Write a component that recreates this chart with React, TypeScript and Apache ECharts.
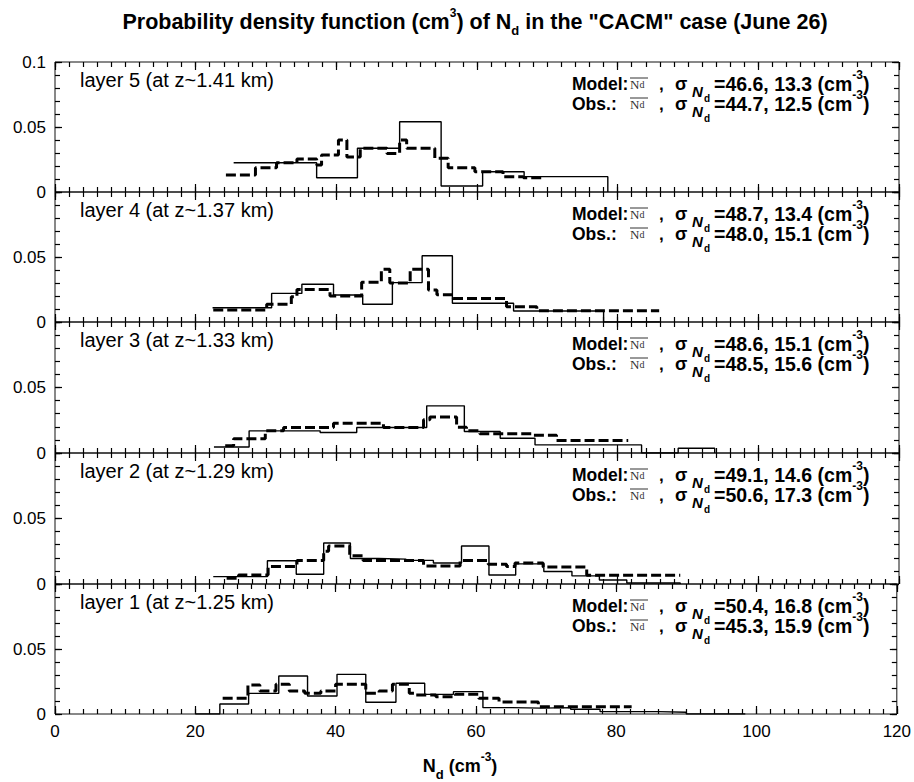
import React, { useEffect, useRef } from "react";
import * as echarts from "echarts";

// ---- axes ----
const X_MIN = 0;
const X_MAX = 120;
const X_STEP = 20;
const X_MINOR_STEP = 2;
const Y_MAX = 0.1;
const Y_STEP = 0.05;
const Y_MINOR_STEP = 0.01;

// ---- panels, listed top to bottom ----
const layerLabels = [
  "layer 5 (at z~1.41 km)",
  "layer 4 (at z~1.37 km)",
  "layer 3 (at z~1.33 km)",
  "layer 2 (at z~1.29 km)",
  "layer 1 (at z~1.25 km)",
];
const modelMean = [46.6, 48.7, 48.6, 49.1, 50.4];
const modelSigma = [13.3, 13.4, 15.1, 14.6, 16.8];
const obsMean = [44.7, 48.0, 48.5, 50.6, 45.3];
const obsSigma = [12.5, 15.1, 15.6, 17.3, 15.9];

// Histogram steps: left edge of each bin (cm^-3) with the bin's density;
// the last entry closes the final bin.
const layer5ModelNd = [25.4, 37.2, 43.0, 49.0, 54.9, 60.8, 66.7, 78.6];
const layer5ModelPdf = [0.0225, 0.011, 0.0336, 0.054, 0.0046, 0.0156, 0.0118, 0];
const layer5ObsNd = [24.3, 28.5, 31.5, 34.4, 37.2, 37.9, 40.3, 41.5, 43.4, 47.2, 49.0, 50.0, 54.0, 55.9, 59.7, 63.7, 66.6, 69.2];
const layer5ObsPdf = [0.013, 0.0187, 0.0225, 0.0254, 0.0208, 0.0285, 0.04, 0.027, 0.0336, 0.0297, 0.04, 0.0336, 0.026, 0.0187, 0.0156, 0.0118, 0.011, 0.011];

const layer4ModelNd = [22.4, 30.8, 35.1, 39.6, 43.75, 47.97, 52.2, 56.5, 65.2, 78.0, 86.0];
const layer4ModelPdf = [0.011, 0.022, 0.029, 0.0208, 0.0136, 0.0303, 0.051, 0.0144, 0.0085, 0, 0];
const layer4ObsNd = [22.5, 30.1, 33.6, 34.4, 39.1, 43.6, 46.4, 47.6, 50.5, 53.1, 54.3, 56.6, 64.2, 68.5, 85.9];
const layer4ObsPdf = [0.0092, 0.0136, 0.0195, 0.025, 0.02, 0.0305, 0.0405, 0.03, 0.0405, 0.0246, 0.021, 0.018, 0.0118, 0.0087, 0.0087];

const layer3ModelNd = [22.6, 27.6, 37.7, 42.9, 52.85, 58.2, 63.3, 68.25, 83.4, 88.6, 93.8];
const layer3ModelPdf = [0.0046, 0.0169, 0.0156, 0.0195, 0.036, 0.0164, 0.0113, 0.0062, 0, 0.0036, 0];
const layer3ObsNd = [24.2, 25.4, 29.9, 32.5, 39.6, 46.7, 52.4, 53.3, 57.1, 58.5, 60.4, 68.0, 71.3, 81.5];
const layer3ObsPdf = [0.0056, 0.0108, 0.017, 0.0195, 0.0228, 0.0195, 0.0254, 0.0274, 0.0197, 0.017, 0.0146, 0.0136, 0.0095, 0.0095];

const layer2ModelNd = [22.5, 30.2, 34.3, 38.2, 42.0, 46.0, 49.9, 53.8, 57.8, 61.7, 65.5, 69.5, 73.5, 77.4, 81.3, 88.9];
const layer2ModelPdf = [0.0056, 0.0177, 0.0074, 0.0313, 0.0195, 0.019, 0.018, 0.016, 0.029, 0.0069, 0.0154, 0.0095, 0.0062, 0.003, 0.0008, 0];
const layer2ObsNd = [24.4, 26.1, 30.3, 34.4, 38.2, 38.9, 41.9, 43.8, 52.4, 57.6, 61.6, 64.2, 65.4, 69.4, 75.6, 88.9];
const layer2ObsPdf = [0.0044, 0.0069, 0.0133, 0.018, 0.025, 0.029, 0.0215, 0.018, 0.0138, 0.018, 0.015, 0.0133, 0.016, 0.013, 0.0067, 0.0067];

const layer1ModelNd = [20.0, 23.5, 27.6, 31.9, 36.0, 40.2, 44.3, 48.6, 52.7, 56.8, 61.0, 65.2, 69.3, 73.5, 77.7, 82.0, 86.0, 90.0, 98.4];
const layer1ModelPdf = [0, 0.0077, 0.0159, 0.0292, 0.0138, 0.0305, 0.009, 0.0236, 0.0151, 0.0172, 0.0049, 0.0045, 0.0049, 0.0036, 0.0018, 0.0018, 0.0013, 0, 0];
const layer1ObsNd = [23.9, 27.5, 29.2, 31.5, 33.4, 35.6, 37.9, 40.0, 44.3, 46.2, 48.1, 50.5, 51.4, 54.3, 57.1, 60.4, 63.3, 68.9, 82.2];
const layer1ObsPdf = [0.0121, 0.0223, 0.0177, 0.0228, 0.0177, 0.0159, 0.0177, 0.0228, 0.0159, 0.0177, 0.0228, 0.0159, 0.0146, 0.0133, 0.0151, 0.0121, 0.0092, 0.0056, 0.0056];

const panels = [
  { model: [layer5ModelNd, layer5ModelPdf], obs: [layer5ObsNd, layer5ObsPdf] },
  { model: [layer4ModelNd, layer4ModelPdf], obs: [layer4ObsNd, layer4ObsPdf] },
  { model: [layer3ModelNd, layer3ModelPdf], obs: [layer3ObsNd, layer3ObsPdf] },
  { model: [layer2ModelNd, layer2ModelPdf], obs: [layer2ObsNd, layer2ObsPdf] },
  { model: [layer1ModelNd, layer1ModelPdf], obs: [layer1ObsNd, layer1ObsPdf] },
];

// ---- layout & style ----
const FONT = '"Liberation Sans", Arial, Helvetica, sans-serif';
const SERIF = '"Liberation Serif", "DejaVu Serif", serif';
const INK = "#000";
const GRID_LEFT = 55;
const GRID_WIDTH = 844;
const PANEL_TOPS = [62, 192, 322, 453, 584];
const PANEL_HEIGHTS = [130, 130, 131, 131, 130];
const MAJOR_LEN = 8;
const MINOR_LEN = 5;
const AXES_PER_DIM = 4; // major + minor, on both sides

const pairs = (nd: number[], pdf: number[]) => nd.map((x, k) => [x, pdf[k]]);

// Tick rows are drawn as outward ticks of an axis shifted into the panel by
// the tick length, so they end on the frame and point inwards.
function tickAxis(dim: "x" | "y", i: number, position: string, interval: number, len: number, withLabels: boolean) {
  const isX = dim === "x";
  return {
    gridIndex: i,
    type: "value",
    min: isX ? X_MIN : 0,
    max: isX ? X_MAX : Y_MAX,
    interval,
    position,
    offset: -len,
    axisLine: { show: false, onZero: false },
    axisTick: { show: true, inside: false, length: len, lineStyle: { color: "#000", width: 1.2 } },
    minorTick: { show: false },
    splitLine: { show: false },
    axisLabel: withLabels
      ? {
          show: true,
          fontFamily: FONT,
          fontSize: 17,
          color: INK,
          margin: 9 + len,
          formatter: isX
            ? undefined
            : (v: number) => (i > 0 && v > Y_MAX - 1e-6 ? "" : String(+v.toFixed(2))),
        }
      : { show: false },
  };
}

function text(x: number, y: number, str: string, extra: any = {}, align = "left") {
  return {
    type: "text",
    x,
    y,
    silent: true,
    style: {
      text: str,
      fill: INK,
      fontFamily: FONT,
      fontSize: 17,
      align,
      verticalAlign: "middle",
      textAlign: align,
      textVerticalAlign: "middle",
      ...extra,
    },
  };
}

const richSup = { fontFamily: FONT, fontSize: 12, fontWeight: "bold", verticalAlign: "top", lineHeight: 12, fill: INK };
const richSub = { fontFamily: FONT, fontSize: 13, fontWeight: "bold", verticalAlign: "bottom", lineHeight: 13, fill: INK };

function buildGraphics() {
  const g: any[] = [];
  g.push(
    text(
      475,
      22,
      '{t|Probability density function (cm}{sup|3}{t|) of N}{sub|d}{t| in the "CACM" case (June 26)}',
      {
        rich: {
          t: { fontFamily: FONT, fontSize: 21.5, fontWeight: "bold", lineHeight: 30, fill: INK },
          sup: richSup,
          sub: richSub,
        },
      },
      "center"
    )
  );
  g.push(
    text(
      460,
      766,
      "{t|N}{sub|d}{t| (cm}{sup|-3}{t|)}",
      {
        rich: {
          t: { fontFamily: FONT, fontSize: 18, fontWeight: "bold", lineHeight: 30, fill: INK },
          sup: richSup,
          sub: richSub,
        },
      },
      "center"
    )
  );
  panels.forEach((_, i) => {
    const top = PANEL_TOPS[i];
    g.push(text(80, top + 18, layerLabels[i], { fontSize: 20 }));
    const rows: [string, number, number][] = [
      ["Model:", modelMean[i], modelSigma[i]],
      ["Obs.:", obsMean[i], obsSigma[i]],
    ];
    rows.forEach(([lab, mean, sigma], r) => {
      const yc = top + 22 + r * 20;
      g.push(text(572, yc, lab, { fontWeight: "bold", fontSize: 17.5 }));
      // mean symbol: N_d with an overbar
      g.push(
        text(630, yc, "{n|N}{d|d}", {
          rich: {
            n: { fontFamily: SERIF, fontSize: 13, fill: "#333" },
            d: { fontFamily: SERIF, fontSize: 10, fill: "#333" },
          },
        })
      );
      g.push({
        type: "line",
        silent: true,
        shape: { x1: 630, y1: yc - 6, x2: 648, y2: yc - 6 },
        style: { stroke: "#333", lineWidth: 1 },
      });
      g.push(text(659, yc, ",", { fontWeight: "bold" }));
      g.push(text(675, yc, "σ", { fontWeight: "bold", fontSize: 18 }));
      g.push(text(692, yc + 7, "N", { fontWeight: "bold", fontStyle: "italic", fontSize: 15 }));
      g.push(text(704, yc + 14, "d", { fontWeight: "bold", fontSize: 10 }));
      g.push(
        text(714, yc, `{a|=${mean.toFixed(1)}, ${sigma.toFixed(1)} (cm}{sup|-3}{a|)}`, {
          rich: {
            a: { fontFamily: FONT, fontSize: 19.5, fontWeight: "bold", lineHeight: 30, fill: INK },
            sup: richSup,
          },
        })
      );
    });
  });
  return g;
}

function buildOption() {
  const last = panels.length - 1;
  const grid = panels.map((_, i) => ({
    left: GRID_LEFT,
    width: GRID_WIDTH,
    top: PANEL_TOPS[i],
    height: PANEL_HEIGHTS[i],
    show: true,
    borderColor: "#111",
    borderWidth: 1,
    backgroundColor: "transparent",
  }));
  const xAxis: any[] = [];
  const yAxis: any[] = [];
  panels.forEach((_, i) => {
    // index 4*i is the data axis of each panel
    xAxis.push(tickAxis("x", i, "bottom", X_STEP, MAJOR_LEN, i === last));
    xAxis.push(tickAxis("x", i, "bottom", X_MINOR_STEP, MINOR_LEN, false));
    xAxis.push(tickAxis("x", i, "top", X_STEP, MAJOR_LEN, false));
    xAxis.push(tickAxis("x", i, "top", X_MINOR_STEP, MINOR_LEN, false));
    yAxis.push(tickAxis("y", i, "left", Y_STEP, 7, true));
    yAxis.push(tickAxis("y", i, "left", Y_MINOR_STEP, MINOR_LEN, false));
    yAxis.push(tickAxis("y", i, "right", Y_STEP, 7, false));
    yAxis.push(tickAxis("y", i, "right", Y_MINOR_STEP, MINOR_LEN, false));
  });
  const series: any[] = [];
  panels.forEach((p, i) => {
    series.push({
      name: `Model ${i}`,
      type: "line",
      xAxisIndex: AXES_PER_DIM * i,
      yAxisIndex: AXES_PER_DIM * i,
      step: "end",
      symbol: "none",
      data: pairs(p.model[0], p.model[1]),
      lineStyle: { color: INK, width: 1.4 },
    });
    series.push({
      name: `Obs ${i}`,
      type: "line",
      xAxisIndex: AXES_PER_DIM * i,
      yAxisIndex: AXES_PER_DIM * i,
      step: "end",
      symbol: "none",
      data: pairs(p.obs[0], p.obs[1]),
      lineStyle: { color: INK, width: 3, type: [10, 4] },
    });
  });
  return { animation: false, grid, xAxis, yAxis, series, graphic: buildGraphics() };
}

export default function App() {
  const ref = useRef<HTMLDivElement>(null);
  useEffect(() => {
    if (!ref.current) return;
    const chart = echarts.init(ref.current, null, { renderer: "svg" });
    chart.setOption(buildOption() as any);
    return () => chart.dispose();
  }, []);
  return (
    <div
      ref={ref}
      style={{ position: "fixed", left: 0, top: 0, width: 914, height: 782, background: "#fff" }}
    />
  );
}
